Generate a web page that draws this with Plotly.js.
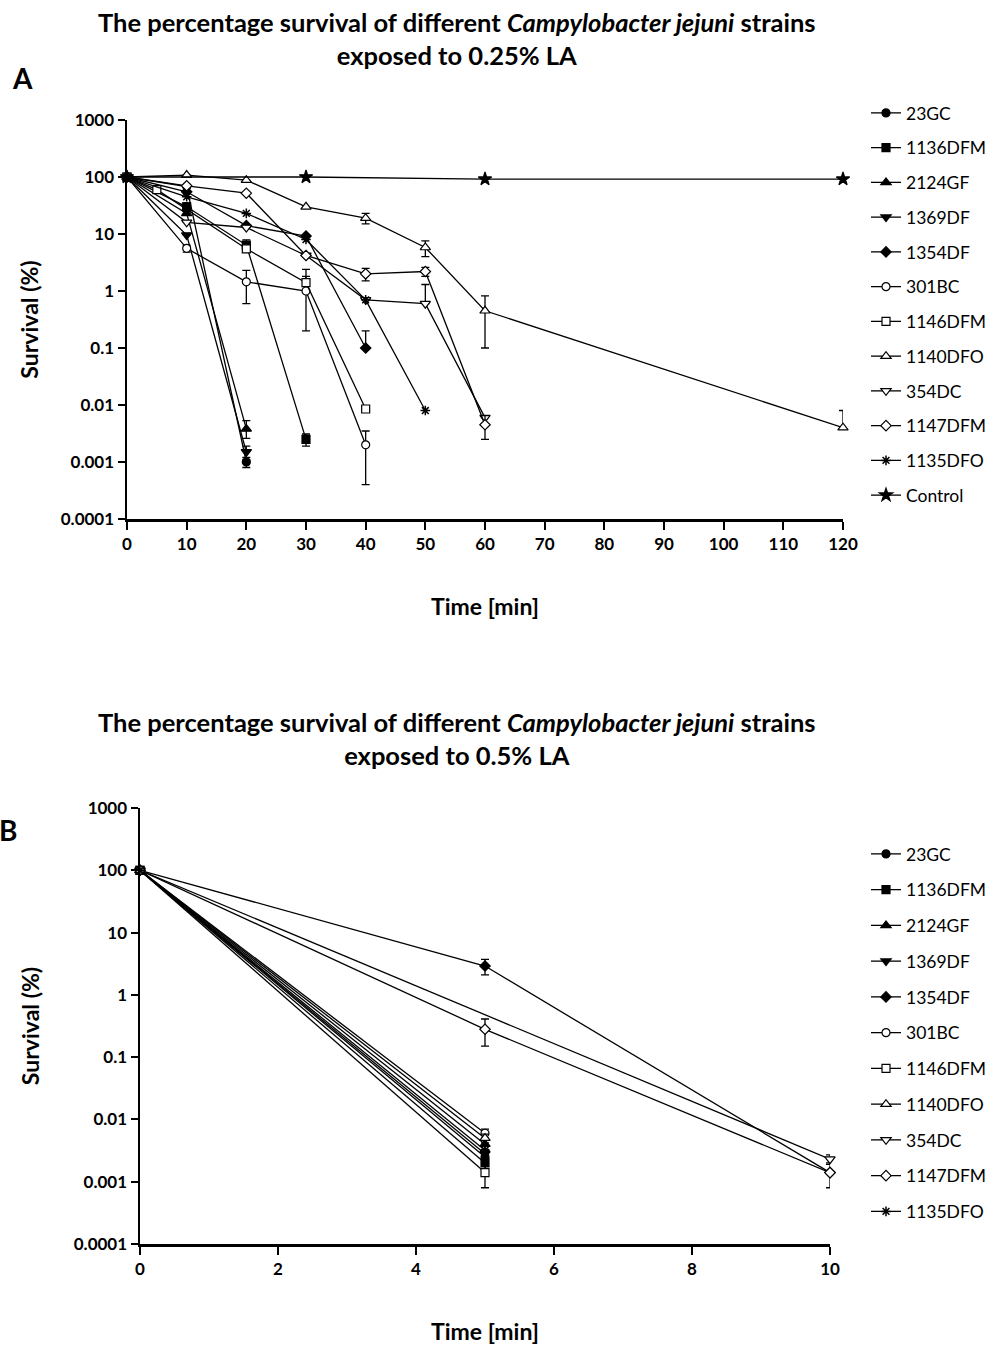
<!DOCTYPE html>
<html><head><meta charset="utf-8">
<script src="https://cdn.plot.ly/plotly-3.0.1.min.js"></script>
<style>html,body{margin:0;padding:0;background:#fff}#chart{width:999px;height:1346px}</style>
</head><body><div id="chart"></div>
<script>
// ---------- Panel A data (0.25% LA) ----------
const strainNames = ['23GC','1136DFM','2124GF','1369DF','1354DF','301BC','1146DFM','1140DFO','354DC','1147DFM','1135DFO','Control'];
const strainSymbols = ['circle','square','triangle-up','triangle-down','diamond','circle-open','square-open','triangle-up-open','triangle-down-open','diamond-open','asterisk-open','star'];

// time (min), survival (%), error up, error down
const tA_23GC = [0,10,20];            const yA_23GC = [100,68,0.001];
const euA_23GC = [0,0,0.0002];        const edA_23GC = [0,0,0.0002];
const tA_1136DFM = [0,10,20,30];      const yA_1136DFM = [100,30,6.4,0.0025];
const euA_1136DFM = [0,5,1.5,0.0006]; const edA_1136DFM = [0,5,1.5,0.0006];
const tA_2124GF = [0,10,20];          const yA_2124GF = [100,23,0.0038];
const euA_2124GF = [0,0,0.0015];      const edA_2124GF = [0,0,0.0012];
const tA_1369DF = [0,10,20];          const yA_1369DF = [100,9.6,0.0015];
const euA_1369DF = [0,0,0.0004];      const edA_1369DF = [0,0,0.0004];
const tA_1354DF = [0,10,20,30,40];    const yA_1354DF = [100,55,14,9.2,0.1];
const euA_1354DF = [0,0,0,0,0.1];     const edA_1354DF = [0,0,0,0,0];
const tA_301BC = [0,10,20,30,40];     const yA_301BC = [100,5.6,1.45,1.0,0.002];
const euA_301BC = [0,0.8,0.85,0.8,0.0015]; const edA_301BC = [0,0.8,0.85,0.8,0.0016];
const tA_1146DFM = [0,5,20,30,40];    const yA_1146DFM = [100,60,5.5,1.4,0.0085];
const euA_1146DFM = [0,0,0,1.0,0];    const edA_1146DFM = [0,0,0,0,0];
const tA_1140DFO = [0,10,20,30,40,50,60,120]; const yA_1140DFO = [100,108,88,30,19,5.8,0.45,0.004];
const euA_1140DFO = [0,0,0,0,4,1.8,0.37,0.004]; const edA_1140DFO = [0,0,0,0,4,1.8,0.35,0];
const tA_354DC = [0,10,20,30,40,50,60]; const yA_354DC = [100,16,13,4.2,0.7,0.6,0.006];
const euA_354DC = [0,0,0,0,0,0.7,0];  const edA_354DC = [0,0,0,0,0,0,0];
const tA_1147DFM = [0,10,20,30,40,50,60]; const yA_1147DFM = [100,70,52,4.2,2.0,2.2,0.0045];
const euA_1147DFM = [0,0,0,0,0.5,0.4,0.002]; const edA_1147DFM = [0,0,0,0,0.5,0.4,0.002];
const tA_1135DFO = [0,10,20,30,40,50];  const yA_1135DFO = [100,45,23,8,0.7,0.008];
const tA_Control = [0,30,60,120];     const yA_Control = [100,100,92,92];

// ---------- Panel B data (0.5% LA) ----------
const tB_23GC = [0,5];      const yB_23GC = [100,0.0025];   const eB_23GC = [0,0.0004];
const tB_1136DFM = [0,5];   const yB_1136DFM = [100,0.002]; const eB_1136DFM = [0,0.0004];
const tB_2124GF = [0,5];    const yB_2124GF = [100,0.004];  const eB_2124GF = [0,0.0008];
const tB_1369DF = [0,5];    const yB_1369DF = [100,0.0028]; const eB_1369DF = [0,0.0005];
const tB_1354DF = [0,5,10]; const yB_1354DF = [100,2.9,0.0014]; const eB_1354DF = [0,0.8,0.0006];
const tB_301BC = [0,5];     const yB_301BC = [100,0.006];   const eB_301BC = [0,0.001];
const tB_1146DFM = [0,5];   const yB_1146DFM = [100,0.0014]; const eB_1146DFM = [0,0.0006];
const tB_1140DFO = [0,5];   const yB_1140DFO = [100,0.005]; const eB_1140DFO = [0,0.0008];
const tB_354DC = [0,10];    const yB_354DC = [100,0.0023];  const eB_354DC = [0,0.0004];
const tB_1147DFM = [0,5,10]; const yB_1147DFM = [100,0.28,0.0014]; const eB_1147DFM = [0,0.13,0];
const tB_1135DFO = [0,5];   const yB_1135DFO = [100,0.0032]; const eB_1135DFO = [0,0.0005];

const yTickVals = [0.0001,0.001,0.01,0.1,1,10,100,1000];
const yTickText = ['0.0001','0.001','0.01','0.1','1','10','100','1000'];
const xTicksA = [0,10,20,30,40,50,60,70,80,90,100,110,120];
const xTicksB = [0,2,4,6,8,10];

const none = null;
const seriesA = [
  [tA_23GC,yA_23GC,euA_23GC,edA_23GC],[tA_1136DFM,yA_1136DFM,euA_1136DFM,edA_1136DFM],
  [tA_2124GF,yA_2124GF,euA_2124GF,edA_2124GF],[tA_1369DF,yA_1369DF,euA_1369DF,edA_1369DF],
  [tA_1354DF,yA_1354DF,euA_1354DF,edA_1354DF],[tA_301BC,yA_301BC,euA_301BC,edA_301BC],
  [tA_1146DFM,yA_1146DFM,euA_1146DFM,edA_1146DFM],[tA_1140DFO,yA_1140DFO,euA_1140DFO,edA_1140DFO],
  [tA_354DC,yA_354DC,euA_354DC,edA_354DC],[tA_1147DFM,yA_1147DFM,euA_1147DFM,edA_1147DFM],
  [tA_1135DFO,yA_1135DFO,none,none],[tA_Control,yA_Control,none,none]
];
const seriesB = [
  [tB_23GC,yB_23GC,eB_23GC,eB_23GC],[tB_1136DFM,yB_1136DFM,eB_1136DFM,eB_1136DFM],[tB_2124GF,yB_2124GF,eB_2124GF,eB_2124GF],
  [tB_1369DF,yB_1369DF,eB_1369DF,eB_1369DF],[tB_1354DF,yB_1354DF,eB_1354DF,eB_1354DF],[tB_301BC,yB_301BC,eB_301BC,eB_301BC],
  [tB_1146DFM,yB_1146DFM,eB_1146DFM,eB_1146DFM],[tB_1140DFO,yB_1140DFO,eB_1140DFO,eB_1140DFO],[tB_354DC,yB_354DC,eB_354DC,eB_354DC],
  [tB_1147DFM,yB_1147DFM,eB_1147DFM,eB_1147DFM],[tB_1135DFO,yB_1135DFO,eB_1135DFO,eB_1135DFO]
];

const FONT = 'Lato, "Open Sans", sans-serif';
const W = 999, H = 1346;
function mk(i, s, panel) {
  let sym = strainSymbols[i];
  let fill = '#000';
  if (sym === 'asterisk-open') { fill = '#000'; }
  else if (sym.indexOf('-open') > 0) { sym = sym.replace('-open',''); fill = '#fff'; }
  const tr = {
    type: 'scatter', mode: 'lines+markers',
    x: s[0], y: s[1], name: strainNames[i],
    xaxis: panel === 'A' ? 'x' : 'x2', yaxis: panel === 'A' ? 'y' : 'y2',
    legend: panel === 'A' ? 'legend' : 'legend2',
    legendgroup: panel + i,
    line: {color: '#000', width: 1.3},
    marker: {symbol: sym, size: sym.indexOf('triangle') === 0 ? 9 : (sym==='star' ? 10 : 8), color: fill,
             line: {color: '#000', width: sym==='asterisk-open' ? 1.5 : 1.2}},
    cliponaxis: false
  };
  if (s[2]) tr.error_y = {type: 'data', symmetric: false, array: s[2], arrayminus: s[3], color: '#000', thickness: 1.3, width: 4};
  return tr;
}
const traces = [];
seriesA.forEach((s,i)=>traces.push(mk(i,s,'A')));
seriesB.forEach((s,i)=>traces.push(mk(i,s,'B')));

const axFont = {family: FONT, size: 17, color: '#000', weight: 'bold'};
const titleFont = {family: FONT, size: 23, color: '#000', weight: 'bold'};
function xax(domain, ticks, anchor, range){ return {domain, anchor, range, tickvals: ticks, ticktext: ticks.map(String), showgrid:false, zeroline:false, showline:true, linecolor:'#000', linewidth:2.5, ticks:'outside', ticklen:8, tickwidth:2, tickcolor:'#000', tickfont: axFont, title:{text:'Time [min]', font:titleFont, standoff: 46}}; }
function yax(domain, anchor, standoff){ return {domain, anchor, type:'log', range:[-4,3], tickvals:yTickVals, ticktext:yTickText, showgrid:false, zeroline:false, showline:true, linecolor:'#000', linewidth:2.5, ticks:'outside', ticklen:7, tickwidth:2, tickcolor:'#000', tickfont: axFont, title:{text:'Survival (%)', font:titleFont, standoff: standoff}}; }

const layout = {
  width: W, height: H, margin: {l:0,r:0,t:0,b:0}, paper_bgcolor:'#fff', plot_bgcolor:'#fff',
  font: {family: FONT, color:'#000'},
  showlegend: true,
  xaxis: xax([127/W, 843/W], xTicksA, 'y', [0,120]),
  yaxis: yax([1-519/H, 1-120/H], 'x', 16),
  xaxis2: xax([140/W, 830/W], xTicksB, 'y2', [0,10]),
  yaxis2: yax([1-1244/H, 1-808/H], 'x2', 28),
  legend: {x: 866/W, y: 1-95/H, xanchor:'left', yanchor:'top', font:{family:FONT, size:17.5, color:'#000'}, tracegroupgap: 9, itemwidth: 30, bgcolor:'rgba(0,0,0,0)'},
  legend2: {x: 866/W, y: 1-836/H, xanchor:'left', yanchor:'top', font:{family:FONT, size:17.5, color:'#000'}, tracegroupgap: 10, itemwidth: 30, bgcolor:'rgba(0,0,0,0)'},
  annotations: [
    {text:'The percentage survival of different <i>Campylobacter jejuni</i> strains<br>exposed to 0.25% LA', xref:'paper', yref:'paper', x:457/W, y:1-5/H, xanchor:'center', yanchor:'top', showarrow:false, font:{family:FONT, size:25.5, color:'#000', weight:'bold'}},
    {text:'A', xref:'paper', yref:'paper', x:22/W, y:1-78/H, xanchor:'center', yanchor:'middle', showarrow:false, font:{family:FONT, size:28, color:'#000', weight:'bold'}},
    {text:'The percentage survival of different <i>Campylobacter jejuni</i> strains<br>exposed to 0.5% LA', xref:'paper', yref:'paper', x:457/W, y:1-705/H, xanchor:'center', yanchor:'top', showarrow:false, font:{family:FONT, size:25.5, color:'#000', weight:'bold'}},
    {text:'B', xref:'paper', yref:'paper', x:-3/W, y:1-830/H, xanchor:'left', yanchor:'middle', showarrow:false, font:{family:FONT, size:28, color:'#000', weight:'bold'}}
  ]
};
Plotly.newPlot('chart', traces, layout, {displayModeBar:false, staticPlot:true});
</script></body></html>
